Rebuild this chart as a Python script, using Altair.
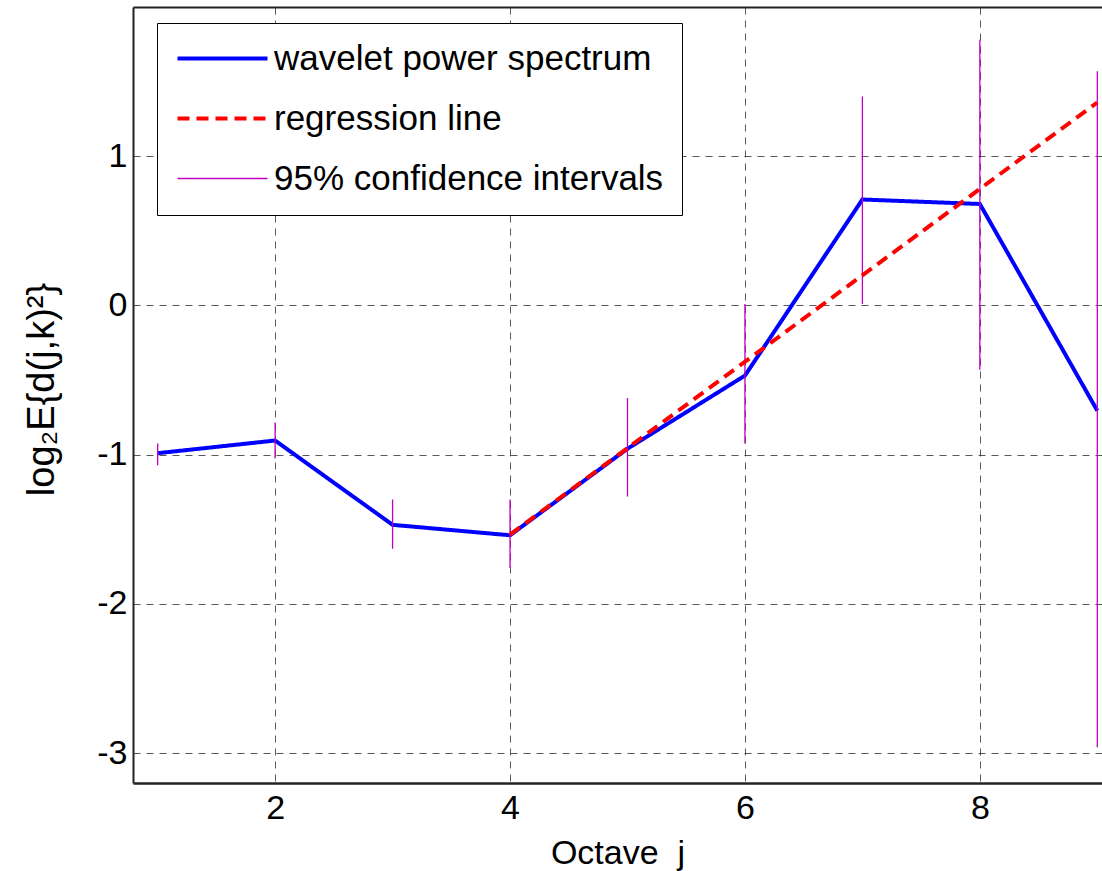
import altair as alt
import pandas as pd

# ---- data ----
octave = [1, 2, 3, 4, 5, 6, 7, 8, 9]
log_power = [-0.99, -0.905, -1.47, -1.54, -0.96, -0.47, 0.71, 0.68, -0.705]
reg_octave = [4, 9]
reg_value = [-1.535, 1.36]
ci_low = [-1.07, -1.025, -1.63, -1.76, -1.28, -0.925, 0.01, -0.43, -2.96]
ci_high = [-0.925, -0.785, -1.30, -1.30, -0.62, 0.01, 1.40, 1.78, 1.57]
series_names = ["wavelet power spectrum", "regression line", "95% confidence intervals"]
x_ticks = [2, 4, 6, 8]
y_ticks = [-3, -2, -1, 0, 1]

spec_df = pd.DataFrame({"j": octave, "v": log_power, "series": series_names[0]})
reg_df = pd.DataFrame({"j": reg_octave, "v": reg_value, "series": series_names[1]})
ci_df = pd.DataFrame({"j": octave, "v": ci_low, "hi": ci_high, "series": series_names[2]})

FONT = "Liberation Sans"
W, H = 969, 776

xscale = alt.Scale(domain=[0.79, 9.04], nice=False, zero=False)
yscale = alt.Scale(domain=[-3.2, 2], nice=False, zero=False)

legend = alt.Legend(
    orient="none", legendX=24, legendY=16, title=None,
    symbolType="M-1,0H5", symbolSize=900,
    symbolStrokeWidth=alt.ExprRef(expr="datum.value === '95% confidence intervals' ? 1.3 : 4"),
    labelFontSize=35, labelFont=FONT, labelColor="black", labelOffset=64, labelLimit=700,
    padding=18, strokeColor="black", fillColor="white", rowPadding=24,
)
color = alt.Color("series:N", scale=alt.Scale(domain=series_names,
                  range=["#0000ff", "#ff0000", "#bf00bf"]), legend=legend)
dash = alt.StrokeDash("series:N", scale=alt.Scale(domain=series_names,
                      range=[[1, 0], [12, 7], [1, 0]]), legend=legend)

grid_kw = dict(grid=True, gridDash=[7, 6], gridColor="#222", gridOpacity=0.75, gridWidth=1)
lab_kw = dict(labelFontSize=34, labelFont=FONT, labelColor="black",
              titleFont=FONT, titleFontWeight="normal", titleColor="black")

x_bottom = alt.X("j:Q", scale=xscale, axis=alt.Axis(
    values=x_ticks, title="Octave\u00a0\u00a0j", orient="bottom",
    ticks=False, labelPadding=8, titleY=80, titleBaseline="alphabetic", titleFontSize=34,
    domainColor="#222", domainWidth=2.5, **grid_kw, **lab_kw))
x_top = alt.X("j:Q", scale=xscale, axis=alt.Axis(
    orient="top", labels=False, ticks=False, grid=False, title=None,
    domainColor="#222", domainWidth=2))
y_axis = alt.Axis(
    values=y_ticks, title="log₂E{d(j,k)²}", labelExpr="datum.value + ''",
    ticks=False, labelPadding=6, titleFontSize=38,
    titleX=-80, titleY=382, titleAngle=270, titleBaseline="alphabetic", titleAlign="center",
    domainColor="#222", domainWidth=2, **grid_kw, **lab_kw)

ci = alt.Chart(ci_df).mark_rule(strokeWidth=1.3).encode(
    x=x_top,
    y=alt.Y("v:Q", scale=yscale, axis=y_axis),
    y2="hi:Q",
    color=color, strokeDash=dash,
)
spec = alt.Chart(spec_df).mark_line(strokeWidth=4, strokeJoin="miter").encode(
    x=x_bottom, y=alt.Y("v:Q", scale=yscale, axis=y_axis),
    color=color, strokeDash=dash,
)
reg = alt.Chart(reg_df).mark_line(strokeWidth=4).encode(
    x=alt.X("j:Q", scale=xscale, axis=None),
    y=alt.Y("v:Q", scale=yscale, axis=y_axis),
    color=color, strokeDash=dash,
)

chart = alt.layer(spec, ci, reg).resolve_axis(x="independent").properties(
    width=W, height=H,
    autosize=alt.AutoSizeParams(type="none"),
    padding={"left": 133, "top": 7, "right": 0, "bottom": 88},
    background="white",
).configure_view(stroke=None)

chart.save("out.html", embed_options={"renderer": "svg", "actions": False})
